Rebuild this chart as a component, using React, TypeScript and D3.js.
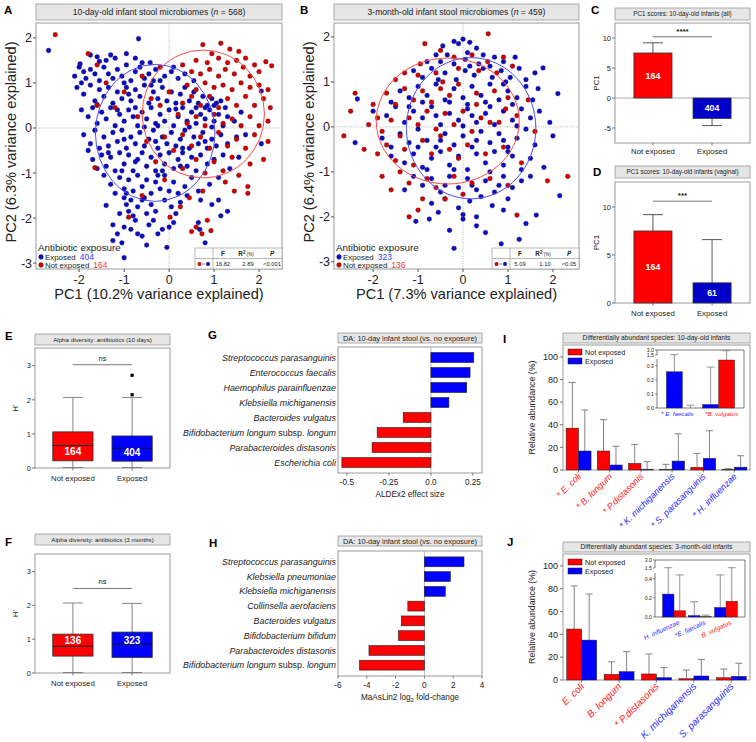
import React from "react";
import * as d3 from "d3";

const FONT = "'Liberation Sans', Arial, Helvetica, sans-serif";
const FRAME = "#9a9a9a";
const TXT = "#222";
const RED = "#ff0000";
const BLUE = "#0000ff";
const DOT_RED = "#d40000";
const DOT_BLUE = "#0a0ac8";

// ---------------- Panel A: PCA 10-day ----------------
const aTitle = "10-day-old infant stool microbiomes";
const aN = 568;
const aXLabel = "PC1 (10.2% variance explained)";
const aYLabel = "PC2 (6.3% variance explained)";
const aCounts = [404, 164];
const aStats = ["16.82", "2.89", "<0.001"];
const aEllExposed = [-0.31, -0.11, 1.33, 1.52];
const aEllNotExposed = [0.76, 0.31, 1.36, 1.42];
const aExposed = [
  [-0.68,1.98],[-2.68,1.72],[-1.98,1.42],[-1.75,1.62],[-1.55,1.48],[-1.4,1.5],[-1.2,1.55],[-0.75,1.55],[-0.42,1.45],[-0.95,1.65],[-1.6,1.58],[-1.3,1.62],
  [-2.0,1.35],[-1.9,1.25],[-1.85,1.1],[-1.75,1.3],[-1.65,1.2],[-1.55,1.05],[-1.45,1.35],[-1.35,1.2],[-1.25,1.1],[-1.15,1.3],[-1.05,1.15],[-0.95,1.4],[-0.85,1.05],[-0.75,1.25],[-0.65,1.35],[-0.55,1.1],[-0.45,1.2],[-0.3,1.3],[-0.2,1.05],[-0.1,1.15],[0.05,1.25],[0.2,1.1],[0.35,1.2],[-1.95,1.0],[-2.1,1.15],[-0.6,1.45],[-1.0,1.0],[0.1,1.35],[-0.35,1.05],[0.55,1.05],
  [-2.05,0.9],[-1.9,0.75],[-1.75,0.95],[-1.65,0.6],[-1.55,0.85],[-1.45,0.7],[-1.35,0.9],[-1.25,0.55],[-1.15,0.8],[-1.05,0.65],[-0.95,0.9],[-0.85,0.6],[-0.75,0.85],[-0.65,0.7],[-0.55,0.95],[-0.45,0.55],[-0.35,0.8],[-0.25,0.65],[-0.15,0.9],[-0.05,0.6],[0.05,0.8],[0.15,0.55],[0.25,0.75],[0.35,0.9],[0.45,0.6],[0.55,0.8],[0.65,0.55],[0.75,0.7],[0.85,0.5],[0.95,0.65],[1.05,0.55],[1.15,0.6],[-1.6,0.52],[-0.9,0.75],[-0.4,0.95],[0.6,0.45],[0.8,0.45],[1.0,0.5],[1.25,0.45],[2.05,0.82],
  [-1.95,0.4],[-1.8,0.25],[-1.7,0.45],[-1.6,0.1],[-1.5,0.35],[-1.4,0.2],[-1.3,0.45],[-1.2,0.05],[-1.1,0.3],[-1.0,0.15],[-0.9,0.4],[-0.8,0.25],[-0.7,0.05],[-0.6,0.35],[-0.5,0.2],[-0.4,0.45],[-0.3,0.1],[-0.2,0.3],[-0.1,0.15],[0.0,0.4],[0.1,0.05],[0.2,0.25],[0.3,0.45],[0.4,0.15],[0.5,0.35],[0.6,0.1],[0.7,0.3],[0.8,0.2],[0.9,0.4],[1.0,0.15],[1.1,0.3],[1.2,0.05],[1.3,0.25],[-1.15,0.4],[-0.75,0.45],[-0.25,0.05],[0.15,0.42],[0.45,0.02],[0.95,0.02],[1.45,0.15],[-0.55,0.02],[1.6,0.35],
  [-1.9,-0.15],[-1.75,-0.35],[-1.65,-0.05],[-1.55,-0.45],[-1.45,-0.2],[-1.35,-0.4],[-1.25,-0.1],[-1.15,-0.3],[-1.05,-0.05],[-0.95,-0.45],[-0.85,-0.2],[-0.75,-0.35],[-0.65,-0.1],[-0.55,-0.4],[-0.45,-0.25],[-0.35,-0.05],[-0.25,-0.45],[-0.15,-0.2],[-0.05,-0.35],[0.05,-0.1],[0.15,-0.4],[0.25,-0.25],[0.35,-0.05],[0.45,-0.45],[0.55,-0.2],[0.65,-0.35],[0.75,-0.1],[0.85,-0.45],[0.95,-0.25],[1.05,-0.4],[1.15,-0.15],[1.3,-0.35],[1.5,-0.2],[-1.8,-0.5],[-1.0,-0.25],[-0.3,-0.3],[0.3,-0.45],[0.8,-0.3],[1.7,-0.15],[2.05,-0.35],
  [-1.7,-0.7],[-1.6,-0.9],[-1.5,-0.6],[-1.4,-0.85],[-1.3,-0.65],[-1.2,-0.95],[-1.1,-0.55],[-1.0,-0.8],[-0.9,-0.6],[-0.8,-0.95],[-0.7,-0.7],[-0.6,-0.55],[-0.5,-0.85],[-0.4,-0.65],[-0.3,-0.95],[-0.2,-0.6],[-0.1,-0.8],[0.0,-0.55],[0.1,-0.9],[0.2,-0.7],[0.3,-0.55],[0.4,-0.85],[0.5,-0.65],[0.6,-0.95],[0.7,-0.6],[0.85,-0.8],[1.0,-0.7],[1.2,-0.6],[1.35,-0.9],[-1.35,-0.55],[-0.75,-0.75],[-0.15,-0.95],[0.25,-0.85],[-1.05,-0.95],[1.55,-0.65],
  [-1.45,-1.05],[-1.3,-1.25],[-1.2,-1.45],[-1.1,-1.1],[-1.0,-1.35],[-0.9,-1.15],[-0.8,-1.4],[-0.7,-1.05],[-0.6,-1.3],[-0.5,-1.15],[-0.4,-1.45],[-0.3,-1.2],[-0.2,-1.35],[-0.1,-1.05],[0.0,-1.4],[0.1,-1.2],[0.2,-1.45],[0.35,-1.3],[0.5,-1.1],[0.65,-1.4],[0.9,-1.25],[-0.95,-1.45],[-0.25,-1.05],[0.4,-1.5],[1.1,-1.1],
  [-1.4,-1.72],[-1.0,-1.55],[-0.95,-1.7],[-0.9,-1.85],[-0.85,-1.6],[-0.8,-1.95],[-0.7,-1.75],[-0.6,-1.6],[-0.5,-1.9],[-0.4,-1.7],[-0.3,-1.85],[-0.1,-1.6],[0.05,-1.75],[0.15,-1.9],[0.25,-1.65],[0.7,-1.6],[0.95,-1.7],[1.1,-1.6],[1.3,-1.85],[1.15,-1.95],[-0.55,-1.55],[-1.1,-1.9],
  [-1.25,-2.15],[-1.25,-2.5],[-1.15,-2.35],[-1.0,-2.2],[-0.85,-2.25],[-0.75,-2.05],[-0.7,-2.35],[-0.6,-2.4],[-0.45,-2.15],[-0.35,-2.05],[-0.25,-2.35],[-0.15,-2.25],[-0.05,-2.65],[0.1,-2.1],[-1.0,-2.88],[0.8,-2.55],[0.65,-2.1],[0.68,-2.25],[-0.5,-2.6],[-1.05,-2.55],[0.0,-2.2],
];
const aNotExposed = [
  [-2.53,2.07],[-1.8,1.65],[-1.6,1.4],[-1.65,-0.88],[-0.9,-1.98],[0.02,-1.98],
  [0.75,1.85],[1.15,1.88],[1.35,1.75],[0.95,1.65],[1.55,1.7],[0.6,1.5],[0.85,1.45],[1.1,1.55],[1.3,1.45],[1.5,1.5],[1.7,1.55],[1.9,1.4],[2.15,1.47],[2.28,1.38],[0.5,1.25],[0.7,1.2],[0.9,1.3],[1.1,1.15],[1.25,1.3],[1.45,1.2],[1.65,1.35],[1.8,1.15],[2.0,1.25],[-0.2,1.35],[-0.6,1.15],[0.3,1.4],
  [0.4,0.95],[0.6,0.85],[0.8,1.0],[1.0,0.9],[1.2,0.95],[1.4,0.85],[1.6,1.0],[1.8,0.9],[2.0,0.95],[2.2,0.85],[0.5,0.7],[0.9,0.7],[1.3,0.65],[1.7,0.7],[2.1,0.65],[0.3,0.55],[0.7,0.5],[1.1,0.45],[1.5,0.5],[1.9,0.5],[2.25,0.45],[-0.4,0.65],[-1.2,0.45],[0.2,0.3],[0.6,0.25],[1.0,0.3],[1.4,0.2],[1.8,0.25],[2.2,0.15],[0.4,0.1],[0.8,0.05],[1.2,0.1],[1.6,0.05],[2.0,0.05],[-0.7,0.25],[-0.2,0.5],
  [0.3,-0.15],[0.7,-0.2],[1.1,-0.1],[1.5,-0.25],[1.9,-0.15],[2.2,-0.3],[0.5,-0.4],[0.9,-0.45],[1.3,-0.4],[1.7,-0.45],[-0.5,-0.3],[-0.1,-0.2],[0.1,-0.5],[0.6,-0.7],[1.0,-0.75],[1.4,-0.65],[1.8,-0.8],[2.1,-0.7],[0.3,-0.9],[0.8,-1.0],[1.2,-0.95],[1.55,-1.05],[-0.3,-0.75],[1.75,-1.3],[1.75,-1.45],[1.25,-1.2],[0.45,-1.55],[1.45,-1.4],[0.75,-1.4],[0.25,-1.75],[0.5,-2.3],[0.6,-2.2],[0.93,-2.28],[0.85,-2.05],[0.73,-2.35],[-0.6,-1.5],[-1.6,0.5],[-1.4,1.0],[-1.0,0.8],[0.0,0.8],[-0.1,-1.15],
];

// ---------------- Panel B: PCA 3-month ----------------
const bTitle = "3-month-old infant stool microbiomes";
const bN = 459;
const bXLabel = "PC1 (7.3% variance explained)";
const bYLabel = "PC2 (6.4% variance explained)";
const bCounts = [323, 136];
const bStats = ["5.09", "1.10", "<0.05"];
const bEllExposed = [0.18, -0.03, 1.44, 1.57];
const bEllNotExposed = [-0.34, 0.13, 1.59, 1.4];
const bExposed = [
  [-0.2,1.9],[-0.1,1.85],[0.0,1.95],[0.15,1.88],[-0.45,1.8],[0.3,1.75],[-0.6,1.6],[-0.35,1.6],[0.1,1.65],[0.45,1.6],[0.7,1.55],[1.16,1.55],[-0.8,1.45],[-0.5,1.45],[-0.2,1.4],[0.05,1.5],[0.35,1.4],[0.6,1.35],[0.9,1.45],[1.78,1.31],[1.6,1.2],
  [-1.1,1.25],[-0.9,1.1],[-0.7,1.3],[-0.4,1.2],[-0.15,1.05],[0.05,1.25],[0.25,1.15],[0.45,1.3],[0.65,1.1],[0.85,1.25],[1.05,1.1],[1.25,1.3],[1.4,1.05],[-0.55,1.05],[0.15,1.35],[0.95,1.0],
  [-2.35,0.62],[-1.6,0.55],[-1.4,0.8],[-1.2,0.65],[-1.0,0.9],[-0.8,0.7],[-0.6,0.95],[-0.4,0.6],[-0.2,0.85],[0.0,0.65],[0.2,0.9],[0.4,0.7],[0.6,0.95],[0.8,0.6],[1.0,0.8],[1.2,0.65],[1.4,0.9],[1.67,0.85],[2.11,0.74],[1.55,0.6],[-0.3,0.55],[0.5,0.55],[0.9,0.95],[-0.9,0.55],[0.1,0.5],[1.1,0.5],
  [-2.0,0.35],[-1.7,0.25],[-1.5,0.45],[-1.3,0.1],[-1.1,0.35],[-0.9,0.2],[-0.7,0.45],[-0.5,0.05],[-0.3,0.3],[-0.1,0.15],[0.1,0.4],[0.3,0.1],[0.5,0.3],[0.7,0.05],[0.9,0.35],[1.1,0.15],[1.3,0.4],[1.5,0.2],[1.93,0.1],[-0.6,0.25],[0.2,0.25],[0.6,0.45],[1.2,0.02],[-1.2,0.45],[0.0,0.02],[1.7,0.35],
  [-2.4,-0.35],[-1.8,-0.25],[-1.6,-0.45],[-1.4,-0.15],[-1.2,-0.35],[-1.0,-0.05],[-0.8,-0.3],[-0.6,-0.45],[-0.4,-0.15],[-0.2,-0.4],[0.0,-0.2],[0.2,-0.45],[0.4,-0.1],[0.6,-0.35],[0.8,-0.15],[1.0,-0.45],[1.2,-0.25],[1.4,-0.05],[2.0,-0.2],[1.6,-0.4],[-0.5,-0.3],[0.3,-0.3],[0.9,-0.3],[-1.0,-0.45],
  [-1.6,-0.65],[-1.3,-0.8],[-1.1,-0.6],[-0.9,-0.9],[-0.7,-0.7],[-0.5,-0.55],[-0.3,-0.85],[-0.1,-0.65],[0.1,-0.95],[0.3,-0.6],[0.5,-0.8],[0.7,-0.55],[0.9,-0.85],[1.1,-0.65],[1.3,-0.95],[1.5,-0.7],[1.8,-0.9],[-0.2,-0.95],[0.6,-1.0],[1.0,-0.55],[-0.8,-0.95],
  [-1.1,-1.1],[-0.9,-1.3],[-0.7,-1.15],[-0.5,-1.45],[-0.3,-1.1],[-0.1,-1.35],[0.1,-1.15],[0.3,-1.4],[0.5,-1.2],[0.7,-1.45],[0.9,-1.1],[1.1,-1.35],[1.3,-1.2],[-0.4,-1.3],[0.2,-1.3],[0.8,-1.3],[1.5,-1.1],[-1.3,-1.4],
  [-1.05,-2.1],[-0.7,-1.7],[-0.4,-1.6],[-0.1,-1.8],[0.15,-1.65],[0.4,-1.55],[0.65,-1.75],[1.0,-1.6],[2.15,-1.53],[1.63,-1.96],[0.0,-1.95],[-0.55,-1.9],[0.9,-1.85],[0.3,-2.0],
  [1.4,-2.15],[-0.2,-2.7],[0.0,-2.05],[0.3,-2.2],[0.5,-2.35],[0.7,-2.8],[1.25,-2.5],[-0.75,-2.05],[0.85,-2.6],[-0.3,-2.3],
];
const bNotExposed = [
  [0.56,2.07],[-0.85,1.85],[-0.5,1.7],[-0.2,1.55],[0.2,1.6],[0.55,1.45],[0.9,1.55],[-0.95,1.4],[-1.3,1.2],[-1.5,1.05],[-1.0,1.15],[-0.6,1.2],[0.35,1.25],[0.75,1.2],[1.1,1.35],
  [-2.4,0.75],[-2.0,0.5],[-1.9,0.2],[-1.7,0.75],[-1.5,0.5],[-1.3,0.85],[-1.1,0.6],[-0.9,0.8],[-0.7,0.55],[-0.5,0.85],[-0.3,0.7],[-0.1,0.95],[0.3,0.75],[0.7,0.8],[1.0,0.65],
  [-2.1,0.05],[-1.8,-0.1],[-1.6,0.15],[-1.4,-0.2],[-1.2,0.2],[-1.0,0.05],[-0.8,0.35],[-0.6,-0.05],[-0.4,0.3],[-0.2,0.05],[0.0,0.35],[0.2,-0.1],[0.4,0.2],[0.8,0.1],[1.2,0.25],
  [-2.65,-0.2],[-2.2,-0.5],[-1.9,-0.6],[-1.7,-0.4],[-1.5,-0.75],[-1.3,-0.5],[-1.1,-0.85],[-0.9,-0.3],[-0.7,-0.6],[-0.5,-0.2],[-0.3,-0.5],[-0.1,-0.7],[0.1,-0.4],[0.5,-0.6],[0.9,-0.45],
  [-1.8,-1.1],[-1.4,-1.0],[-1.2,-1.25],[-0.8,-1.15],[-0.6,-1.35],[-0.2,-1.1],[0.2,-1.25],[0.6,-1.15],[1.0,-1.3],[-1.0,-1.85],[-1.2,-2.0],[-0.4,-1.6],[0.0,-1.5],[2.33,-1.1],[1.88,-1.2],[1.2,-1.96],
  [1.6,-0.1],[0.95,0.4],[1.45,0.6],[-2.5,0.35],[-0.9,-1.6],[0.3,0.5],[-0.1,1.3],[-1.6,-1.4],[1.3,-0.8],[0.6,0.1],[-0.45,1.0],
];
const pcaXTicks = [-2, -1, 0, 1, 2];
const pcaYTicks = [-3, -2, -1, 0, 1, 2];

// ---------------- Panels C, D: PC1 scores ----------------
const groups = ["Not exposed", "Exposed"];
const cTitle = "PC1 scores: 10-day-old infants (all)";
const cMeans = [7.5, -3.4];
const cErr = [9.2, -4.6];
const cN = [164, 404];
const cTicks = [-5, 0, 5, 10];
const cSig = "****";
const dTitle = "PC1 scores: 10-day-old infants (vaginal)";
const dMeans = [7.5, 2.1];
const dErr = [9.2, 6.6];
const dN = [164, 61];
const dTicks = [0, 5, 10];
const dSig = "***";

// ---------------- Panels E, F: alpha diversity ----------------
const eTitle = "Alpha diversity: antibiotics (10 days)";
const eBoxes = [
  { min: 0, q1: 0.21, med: 0.66, q3: 1.06, max: 2.07, n: 164, lab: 0.5, out: [] },
  { min: 0, q1: 0.2, med: 0.58, q3: 0.94, max: 2.07, n: 404, lab: 0.47, out: [2.15, 2.72] },
];
const fTitle = "Alpha diversity: antibiotics (3 months)";
const fBoxes = [
  { min: 0, q1: 0.5, med: 0.79, q3: 1.15, max: 2.07, n: 136, lab: 0.97, out: [] },
  { min: 0, q1: 0.46, med: 0.85, q3: 1.21, max: 2.06, n: 323, lab: 0.97, out: [] },
];
const hTicks = [0, 1, 2, 3];

// ---------------- Panels G, H: differential abundance ----------------
const daTitle = "DA: 10-day infant stool (vs. no exposure)";
const gSpecies = ["Streptococcus parasanguinis", "Enterococcus faecalis", "Haemophilus parainfluenzae", "Klebsiella michiganensis", "Bacteroides vulgatus", "Bifidobacterium longum subsp. longum", "Parabacteroides distasonis", "Escherichia coli"];
const gEffect = [0.255, 0.233, 0.213, 0.107, -0.165, -0.32, -0.35, -0.53];
const gTicks = [-0.5, -0.25, 0, 0.25];
const gTickLabels = ["-0.5", "-0.25", "0.0", "0.25"];
const hSpecies = ["Streptococcus parasanguinis", "Klebsiella pneumoniae", "Klebsiella michiganensis", "Collinsella aerofaciens", "Bacteroides vulgatus", "Bifidobacterium bifidum", "Parabacteroides distasonis", "Bifidobacterium longum subsp. longum"];
const hLfc = [2.75, 1.8, 1.45, -1.15, -1.6, -1.8, -3.85, -4.5];
const hTicksX = [-6, -4, -2, 0, 2, 4];

// ---------------- Panels I, J: relative abundance ----------------
const iTitle = "Differentially abundant species: 10-day-old infants";
const iSpecies = ["E. coli", "B. longum", "P.distasonis", "K. michiganensis", "S. parasanguinis", "H. influenzae"];
const iStar = ["* ", "* ", "* ", "* ", "* ", "* "];
const iSide = ["r", "r", "r", "b", "b", "b"];
const iNotExp = [37, 16.8, 5.9, 0.5, 2.4, 0.3];
const iNotExpErr = [77.4, 44.5, 22.6, 5, 14.7, 1.2];
const iExp = [16.8, 4.4, 0.7, 7.9, 10.3, 2.5];
const iExpErr = [53, 21, 7.4, 32, 34.7, 12.6];
const iInsetSpecies = ["E. faecalis", "B. vulgatus"];
const iInsetStar = ["* ", "*"];
const iInsetSide = ["b", "r"];
const iInsetExp = [0.257, 0.025];
const iInsetExpErr = [1.6, 0.29];
const iInsetNot = [0.0, 0.34];
const iInsetNotErr = [0.02, 2.8];
const iInsetLowTicks = [0, 0.1, 0.2, 0.3];

const jTitle = "Differentially abundant species: 3-month-old infants";
const jSpecies = ["E. coli", "B. longum", "P.distasonis", "K. michiganensis", "S. parasanguinis"];
const jStar = ["", "", "* ", "", ""];
const jSide = ["r", "r", "r", "b", "b"];
const jNotExp = [44.7, 5, 5.3, 1.2, 2];
const jNotExpErr = [82.5, 16, 22.8, 8.8, 9.6];
const jExp = [35, 7.3, 2, 3.5, 3.2];
const jExpErr = [75.4, 24.9, 11, 18, 14.7];
const jInsetSpecies = ["H. influenzae", "E. faecalis", "B. vulgatus"];
const jInsetStar = ["", "*", ""];
const jInsetSide = ["b", "b", "r"];
const jInsetExp = [0.24, 0.015, 0.1];
const jInsetExpErr = [1.55, 0.16, 0.44];
const jInsetNot = [0.065, 0.003, 0.165];
const jInsetNotErr = [0.44, 0.02, 1.55];
const jInsetLowTicks = [0, 0.2, 0.4];
const abTicks = [0, 20, 40, 60, 80, 100];
const upperTicks = [1.5, 3.0];

// ---------------- helpers ----------------
function TitleBox({ x, y, w, h, fs, children }) {
  return (
    <g>
      <rect x={x} y={y} width={w} height={h} fill="#e6e6e6" stroke="#9a9a9a" strokeWidth={0.8} />
      <text x={x + w / 2} y={y + h / 2} dy="0.36em" textAnchor="middle" fontSize={fs} fill={TXT}>{children}</text>
    </g>
  );
}

function PanelLabel({ x, y, t }) {
  return <text x={x} y={y} fontSize={11.5} fontWeight="bold" fill="#000">{t}</text>;
}

function SpeciesLabel({ x, y, name, fs }) {
  const parts = name.split(" subsp. ");
  return (
    <text x={x} y={y} dy="0.35em" textAnchor="end" fontSize={fs} fill={TXT}>
      <tspan fontStyle="italic">{parts[0]}</tspan>
      {parts.length > 1 ? <><tspan> subsp. </tspan><tspan fontStyle="italic">{parts[1]}</tspan></> : null}
    </text>
  );
}

function ScatterPanel({ left, right, top, bottom, xDom, yDom, exposed, notExposed, ellExp, ellNot, title, n, xLabel, yLabel, counts, stats, label, labelX }) {
  const x = d3.scaleLinear().domain(xDom).range([left, right]);
  const y = d3.scaleLinear().domain(yDom).range([bottom, top]);
  const ell = (e, c) => (
    <ellipse cx={x(e[0])} cy={y(e[1])} rx={x(e[0] + e[2]) - x(e[0])} ry={y(e[1]) - y(e[1] + e[3])} fill="none" stroke={c} strokeWidth={1} />
  );
  const tl = right - 87;
  return (
    <g>
      <PanelLabel x={labelX} y={14} t={label} />
      <TitleBox x={left} y={4} w={right - left} h={16} fs={8.6}>
        {title} (<tspan fontStyle="italic">n</tspan> = {n})
      </TitleBox>
      <rect x={left} y={top} width={right - left} height={bottom - top} fill="#fff" stroke={FRAME} strokeWidth={1} />
      <line x1={x(0)} x2={x(0)} y1={top} y2={bottom} stroke="#b0b0b0" strokeWidth={0.8} strokeDasharray="1.2,1.2" />
      <line x1={left} x2={right} y1={y(0)} y2={y(0)} stroke="#b0b0b0" strokeWidth={0.8} strokeDasharray="1.2,1.2" />
      {exposed.map((d, i) => (
        <circle key={"e" + i} cx={x(d[0])} cy={y(d[1])} r={2.4} fill={DOT_BLUE} stroke="#222" strokeWidth={0.3} />
      ))}
      {notExposed.map((d, i) => (
        <circle key={"n" + i} cx={x(d[0])} cy={y(d[1])} r={2.4} fill={DOT_RED} stroke="#222" strokeWidth={0.3} />
      ))}
      {ell(ellExp, "#4b4bff")}
      {ell(ellNot, "#ff4b4b")}
      {pcaXTicks.map((t) => (
        <g key={"xt" + t}>
          <line x1={x(t)} x2={x(t)} y1={bottom} y2={bottom + 3} stroke="#555" />
          <text x={x(t)} y={bottom + 15} textAnchor="middle" fontSize={12.5} fill={TXT}>{t}</text>
        </g>
      ))}
      {pcaYTicks.map((t) => (
        <g key={"yt" + t}>
          <line x1={left - 3} x2={left} y1={y(t)} y2={y(t)} stroke="#555" />
          <text x={left - 4} y={y(t)} dy="0.36em" textAnchor="end" fontSize={12.5} fill={TXT}>{t}</text>
        </g>
      ))}
      <text x={(left + right) / 2} y={bottom + 30} textAnchor="middle" fontSize={14.6} fill={TXT}>{xLabel}</text>
      <text transform={`translate(${left - 20},${(top + bottom) / 2 - 4}) rotate(-90)`} textAnchor="middle" fontSize={14.6} fill={TXT}>{yLabel}</text>
      {/* legend */}
      <text x={left + 2} y={250.5} fontSize={9.8} fill={TXT}>Antibiotic exposure</text>
      <circle cx={left + 5} cy={257} r={2.4} fill={DOT_BLUE} stroke="#222" strokeWidth={0.3} />
      <text x={left + 9} y={260} fontSize={7.9} fill={TXT}>Exposed<tspan dx={4} fill="#3a3aff" fontSize={8.5}>{counts[0]}</tspan></text>
      <circle cx={left + 5} cy={265} r={2.4} fill={DOT_RED} stroke="#222" strokeWidth={0.3} />
      <text x={left + 9} y={268} fontSize={7.9} fill={TXT}>Not exposed<tspan dx={4} fill="#ff3030" fontSize={8.5}>{counts[1]}</tspan></text>
      {/* stats table */}
      <rect x={tl} y={248} width={87} height={bottom - 248} fill="#fff" stroke="#8a8a8a" strokeWidth={0.6} />
      <line x1={tl} x2={right} y1={258.5} y2={258.5} stroke="#8a8a8a" strokeWidth={0.6} />
      <line x1={tl + 18} x2={tl + 18} y1={248} y2={bottom} stroke="#8a8a8a" strokeWidth={0.6} />
      <text x={right - 59} y={256} textAnchor="middle" fontSize={6.3} fontWeight="bold" fill={TXT}>F</text>
      <text x={right - 36} y={256} textAnchor="middle" fontSize={6.3} fontWeight="bold" fill={TXT}>R<tspan fontSize={4.5} dy={-2.5}>2</tspan><tspan fontSize={4.5} dy={2.5} fontWeight="normal"> (%)</tspan></text>
      <text x={right - 10} y={256} textAnchor="middle" fontSize={6.3} fontWeight="bold" fontStyle="italic" fill={TXT}>P</text>
      <circle cx={tl + 4.5} cy={264} r={2} fill={DOT_RED} />
      <line x1={tl + 7.5} x2={tl + 10} y1={264} y2={264} stroke="#333" strokeWidth={0.6} />
      <circle cx={tl + 13} cy={264} r={2} fill={DOT_BLUE} />
      {stats.map((s, i) => (
        <text key={"s" + i} x={right - [59, 34, 10][i]} y={266} textAnchor="middle" fontSize={5.8} fill={TXT}>{s}</text>
      ))}
    </g>
  );
}

function BarPanel({ left, right, top, bottom, titleY, title, yDom, ticks, means, errs, ns, sig, sigVal, label, labelX, labelY, xLabY, zeroLine }) {
  const x = d3.scaleBand().domain(groups).range([left, right]).paddingInner(0.356).paddingOuter(0.32);
  const y = d3.scaleLinear().domain(yDom).range([bottom, top]);
  const cols = [RED, "#0000c8"];
  const bw = x.bandwidth();
  return (
    <g>
      <PanelLabel x={labelX} y={labelY} t={label} />
      <TitleBox x={left} y={titleY} w={right - left} h={12} fs={6.3}>{title}</TitleBox>
      <rect x={left} y={top} width={right - left} height={bottom - top} fill="#fff" stroke={FRAME} strokeWidth={1} />
      {zeroLine ? <line x1={left} x2={right} y1={y(0)} y2={y(0)} stroke="#9a9a9a" strokeWidth={0.8} /> : null}
      {ticks.map((t) => (
        <g key={t}>
          <line x1={left - 3} x2={left} y1={y(t)} y2={y(t)} stroke="#555" strokeWidth={0.8} />
          <text x={left - 4} y={y(t)} dy="0.36em" textAnchor="end" fontSize={7.5} fill={TXT}>{t}</text>
        </g>
      ))}
      <text transform={`translate(${left - 16},${(top + bottom) / 2}) rotate(-90)`} textAnchor="middle" fontSize={8} fill={TXT}>PC1</text>
      {groups.map((g, i) => {
        const x0 = x(g);
        const cx = x0 + bw / 2;
        const yb = y(Math.max(0, means[i]));
        const h = Math.abs(y(means[i]) - y(0));
        return (
          <g key={g}>
            <line x1={cx} x2={cx} y1={y(means[i])} y2={y(errs[i])} stroke="#444" strokeWidth={0.9} />
            <line x1={cx - 10} x2={cx + 10} y1={y(errs[i])} y2={y(errs[i])} stroke="#444" strokeWidth={0.9} />
            <rect x={x0} y={yb} width={bw} height={h} fill={cols[i]} stroke="#333" strokeWidth={0.8} />
            <text x={cx} y={y(means[i] / 2)} dy="0.36em" textAnchor="middle" fontSize={8.8} fontWeight="bold" fill="#fff">{ns[i]}</text>
            <line x1={cx} x2={cx} y1={bottom} y2={bottom + 2.5} stroke="#555" strokeWidth={0.8} />
            <text x={cx} y={xLabY} textAnchor="middle" fontSize={7.8} fill={TXT}>{g}</text>
          </g>
        );
      })}
      <line x1={x(groups[0]) + bw / 2} x2={x(groups[1]) + bw / 2} y1={y(sigVal)} y2={y(sigVal)} stroke="#666" strokeWidth={0.9} />
      <text x={(x(groups[0]) + x(groups[1]) + bw) / 2} y={y(sigVal) - 3} textAnchor="middle" fontSize={8} fontWeight="bold" fill={TXT}>{sig}</text>
    </g>
  );
}

function BoxPanel({ left, right, top, bottom, titleY, title, boxes, sigVal, label, labelY, xLabY }) {
  const x = d3.scaleBand().domain(groups).range([left, right]).paddingInner(0.32).paddingOuter(0.3);
  const y = d3.scaleLinear().domain([0, 3.52]).range([bottom, top]);
  const cols = [RED, BLUE];
  const bw = x.bandwidth();
  return (
    <g>
      <PanelLabel x={5} y={labelY} t={label} />
      <TitleBox x={left} y={titleY} w={right - left} h={11} fs={6.2}>{title}</TitleBox>
      <rect x={left} y={top} width={right - left} height={bottom - top} fill="#fff" stroke={FRAME} strokeWidth={1} />
      {hTicks.map((t) => (
        <g key={t}>
          <line x1={left - 3} x2={left} y1={y(t)} y2={y(t)} stroke="#555" strokeWidth={0.8} />
          <text x={left - 4} y={y(t)} dy="0.36em" textAnchor="end" fontSize={7.5} fill={TXT}>{t}</text>
        </g>
      ))}
      <text transform={`translate(${left - 17},${(top + bottom) / 2}) rotate(-90)`} textAnchor="middle" fontSize={8} fill={TXT}>H'</text>
      {boxes.map((b, i) => {
        const x0 = x(groups[i]);
        const cx = x0 + bw / 2;
        return (
          <g key={i}>
            <line x1={cx} x2={cx} y1={y(b.q3)} y2={y(b.max)} stroke="#777" strokeWidth={0.9} />
            <line x1={cx - 10} x2={cx + 10} y1={y(b.max)} y2={y(b.max)} stroke="#777" strokeWidth={0.9} />
            <line x1={cx} x2={cx} y1={y(b.q1)} y2={y(b.min)} stroke="#777" strokeWidth={0.9} />
            <line x1={cx - 10} x2={cx + 10} y1={y(b.min) - 0.5} y2={y(b.min) - 0.5} stroke="#777" strokeWidth={0.9} />
            <rect x={x0} y={y(b.q3)} width={bw} height={y(b.q1) - y(b.q3)} fill={cols[i]} stroke="#333" strokeWidth={0.8} />
            <line x1={x0} x2={x0 + bw} y1={y(b.med)} y2={y(b.med)} stroke="#111" strokeWidth={0.9} />
            {b.out.map((o, k) => (
              <rect key={k} x={cx - 1.6} y={y(o) - 1.6} width={3.2} height={3.2} fill="#000" />
            ))}
            <text x={cx} y={y(b.lab)} dy="0.36em" textAnchor="middle" fontSize={10} fontWeight="bold" fill="#fff">{b.n}</text>
            <line x1={cx} x2={cx} y1={bottom} y2={bottom + 2.5} stroke="#555" strokeWidth={0.8} />
            <text x={cx} y={xLabY} textAnchor="middle" fontSize={7.8} fill={TXT}>{groups[i]}</text>
          </g>
        );
      })}
      <line x1={x(groups[0]) + bw / 2} x2={x(groups[1]) + bw / 2} y1={y(sigVal)} y2={y(sigVal)} stroke="#555" strokeWidth={0.8} />
      <text x={(x(groups[0]) + x(groups[1]) + bw) / 2} y={y(sigVal) - 4} textAnchor="middle" fontSize={7.5} fill={TXT}>ns</text>
    </g>
  );
}

function DAPanel({ left, right, top, bottom, titleY, species, values, xDom, ticks, tickLabels, label, labelX, labelY, axisLabel, po }) {
  const x = d3.scaleLinear().domain(xDom).range([left, right]);
  const y = d3.scaleBand().domain(species).range([top, bottom]).paddingInner(0.333).paddingOuter(po);
  const bh = y.bandwidth();
  return (
    <g>
      <PanelLabel x={labelX} y={labelY} t={label} />
      <TitleBox x={left} y={titleY} w={right - left} h={10} fs={7.4}>{daTitle}</TitleBox>
      <rect x={left} y={top} width={right - left} height={bottom - top} fill="#fff" stroke={FRAME} strokeWidth={1} />
      <line x1={x(0)} x2={x(0)} y1={top} y2={bottom} stroke="#b0b0b0" strokeWidth={0.9} />
      {species.map((s, i) => {
        const v = values[i];
        return (
          <g key={s}>
            <rect x={Math.min(x(0), x(v))} y={y(s)} width={Math.abs(x(v) - x(0))} height={bh} fill={v > 0 ? BLUE : RED} stroke="#222" strokeWidth={0.6} />
            <SpeciesLabel x={left - 2} y={y(s) + bh / 2} name={s} fs={8.9} />
          </g>
        );
      })}
      {ticks.map((t, i) => (
        <g key={t}>
          <line x1={x(t)} x2={x(t)} y1={bottom} y2={bottom + 2.5} stroke="#555" strokeWidth={0.8} />
          <text x={x(t)} y={bottom + 12} textAnchor="middle" fontSize={8.2} fill={TXT}>{tickLabels[i]}</text>
        </g>
      ))}
      <text x={(left + right) / 2} y={bottom + 24} textAnchor="middle" fontSize={8.2} fill={TXT}>{axisLabel}</text>
    </g>
  );
}

function AbundancePanel({ left, right, top, bottom, titleY, title, species, star, side, notExp, notErr, exp, expErr, label, labelY, legY, inset, xLabY, xLabFs }) {
  const x = d3.scaleBand().domain(species).range([left, right]);
  const y = d3.scaleLinear().domain([0, 110.5]).range([bottom, top]);
  const bwid = x.bandwidth() * 0.4;
  const ecol = "#777";
  const bar = (cx, x0, v, e, col, k) => (
    <g key={k}>
      <line x1={cx} x2={cx} y1={y(v)} y2={y(e)} stroke={ecol} strokeWidth={0.9} />
      <line x1={cx - 3.5} x2={cx + 3.5} y1={y(e)} y2={y(e)} stroke={ecol} strokeWidth={0.9} />
      <rect x={x0} y={y(v)} width={bwid} height={y(0) - y(v)} fill={col} stroke="#222" strokeWidth={0.5} />
    </g>
  );
  // inset
  const ix = d3.scalePoint().domain(inset.species).range([inset.left, inset.right]).padding(inset.pad);
  const low = d3.scaleLinear().domain([0, inset.lowMax]).range([inset.bottom, inset.lowTop]);
  const up = d3.scaleLinear().domain([1.5, 3.0]).range([inset.upBottom, inset.top]);
  const iy = (v) => (v <= inset.lowMax ? low(v) : up(v));
  const ibw = inset.bw;
  const ibar = (cx, x0, v, e, col, k) => (
    <g key={k}>
      <line x1={cx} x2={cx} y1={iy(v)} y2={iy(e)} stroke={ecol} strokeWidth={0.8} />
      <line x1={cx - 4} x2={cx + 4} y1={iy(e)} y2={iy(e)} stroke={ecol} strokeWidth={0.8} />
      <rect x={x0} y={iy(v)} width={ibw} height={Math.max(0, inset.bottom - iy(v))} fill={col} stroke="#222" strokeWidth={0.4} />
    </g>
  );
  return (
    <g>
      <PanelLabel x={labelY > 500 ? 507 : 503} y={labelY} t={label} />
      <TitleBox x={left} y={titleY} w={right - left} h={10} fs={6.7}>{title}</TitleBox>
      <rect x={left} y={top} width={right - left} height={bottom - top} fill="#fff" stroke={FRAME} strokeWidth={1} />
      {abTicks.map((t) => (
        <g key={t}>
          <line x1={left - 3} x2={left} y1={y(t)} y2={y(t)} stroke="#555" strokeWidth={0.8} />
          <text x={left - 5} y={y(t)} dy="0.36em" textAnchor="end" fontSize={9} fill={TXT}>{t}</text>
        </g>
      ))}
      <text transform={`translate(${left - 28},${(top + bottom) / 2}) rotate(-90)`} textAnchor="middle" fontSize={8.8} fill={TXT}>Relative abundance (%)</text>
      {species.map((s, i) => {
        const x0 = x(s);
        const c = x0 + x.bandwidth() / 2;
        return (
          <g key={s}>
            {bar(c - bwid / 2, c - bwid, notExp[i], notErr[i], RED, "n")}
            {bar(c + bwid / 2, c, exp[i], expErr[i], BLUE, "e")}
            <line x1={c} x2={c} y1={bottom} y2={bottom + 2.5} stroke="#555" strokeWidth={0.8} />
            <text transform={`translate(${c + 3},${xLabY}) rotate(-45)`} textAnchor="end" fontSize={xLabFs} fontStyle="italic" fill={side[i] === "r" ? "#ff2020" : "#2a2aff"}>
              {star[i]}{s}
            </text>
          </g>
        );
      })}
      {/* legend */}
      <rect x={left + 5} y={legY - 3} width={14} height={6} fill={RED} stroke="#222" strokeWidth={0.5} />
      <text x={left + 22} y={legY + 2.5} fontSize={7.2} fill={TXT}>Not exposed</text>
      <rect x={left + 5} y={legY + 6} width={14} height={6} fill={BLUE} stroke="#222" strokeWidth={0.5} />
      <text x={left + 22} y={legY + 11.5} fontSize={7.2} fill={TXT}>Exposed</text>
      {/* inset */}
      <g>
        <line x1={inset.left} x2={inset.right} y1={inset.top} y2={inset.top} stroke="#444" strokeWidth={0.7} />
        <line x1={inset.right} x2={inset.right} y1={inset.top} y2={inset.bottom} stroke="#444" strokeWidth={0.7} />
        <line x1={inset.left} x2={inset.right} y1={inset.bottom} y2={inset.bottom} stroke="#444" strokeWidth={0.7} />
        <line x1={inset.left} x2={inset.left} y1={inset.top} y2={inset.upBottom} stroke="#444" strokeWidth={0.7} />
        <line x1={inset.left} x2={inset.left} y1={inset.lowTop - 1} y2={inset.bottom} stroke="#444" strokeWidth={0.7} />
        {inset.lowTicks.map((t) => (
          <g key={"l" + t}>
            <line x1={inset.left - 2} x2={inset.left} y1={low(t)} y2={low(t)} stroke="#444" strokeWidth={0.6} />
            <text x={inset.left - 3} y={low(t)} dy="0.36em" textAnchor="end" fontSize={5.2} fill={TXT}>{t.toFixed(1)}</text>
          </g>
        ))}
        {upperTicks.map((t) => (
          <g key={"u" + t}>
            <line x1={inset.left - 2} x2={inset.left} y1={up(t)} y2={up(t)} stroke="#444" strokeWidth={0.6} />
            <text x={inset.left - 3} y={up(t)} dy="0.36em" textAnchor="end" fontSize={5.2} fill={TXT}>{t.toFixed(1)}</text>
          </g>
        ))}
        {inset.species.map((s, i) => {
          const c = ix(s);
          return (
            <g key={s}>
              {ibar(c - ibw / 2, c - ibw, inset.exp[i], inset.expErr[i], BLUE, "e")}
              {ibar(c + ibw / 2, c, inset.not[i], inset.notErr[i], RED, "n")}
              {inset.rot ? (
                <text transform={`translate(${c + 6},${inset.bottom + 7}) rotate(-25)`} textAnchor="end" fontSize={6.6} fontStyle="italic" fill={inset.side[i] === "r" ? "#ff2020" : "#2a2aff"}>{inset.star[i]}{s}</text>
              ) : (
                <text x={c + inset.labDx[i]} y={inset.bottom + 8} textAnchor="middle" fontSize={6.2} fontStyle="italic" fill={inset.side[i] === "r" ? "#ff2020" : "#2a2aff"}>{inset.star[i]}{s}</text>
              )}
            </g>
          );
        })}
      </g>
    </g>
  );
}

export default function App() {
  const iInset = {
    left: 657, right: 744, top: 350, bottom: 408, upBottom: 355, lowTop: 360, lowMax: 0.34, pad: 0.7, bw: 16,
    species: iInsetSpecies, star: iInsetStar, side: iInsetSide, exp: iInsetExp, expErr: iInsetExpErr, not: iInsetNot, notErr: iInsetNotErr, lowTicks: iInsetLowTicks, rot: false, labDx: [-5, 3],
  };
  const jInset = {
    left: 655, right: 745, top: 560, bottom: 617, upBottom: 568, lowTop: 574, lowMax: 0.45, pad: 0.73, bw: 11.5,
    species: jInsetSpecies, star: jInsetStar, side: jInsetSide, exp: jInsetExp, expErr: jInsetExpErr, not: jInsetNot, notErr: jInsetNotErr, lowTicks: jInsetLowTicks, rot: true, labDx: [0, 0, 0],
  };
  return (
    <div style={{ position: "absolute", left: 0, top: 0 }}>
      <svg width={756} height={742} fontFamily={FONT} style={{ display: "block", background: "#fff" }}>
        <rect width={756} height={742} fill="#fff" />
        <ScatterPanel left={36} right={282} top={23} bottom={269} xDom={[-2.96, 2.51]} yDom={[-3.13, 2.33]}
          exposed={aExposed} notExposed={aNotExposed} ellExp={aEllExposed} ellNot={aEllNotExposed}
          title={aTitle} n={aN} xLabel={aXLabel} yLabel={aYLabel} counts={aCounts} stats={aStats} label="A" labelX={4} />
        <ScatterPanel left={334} right={579} top={23} bottom={269} xDom={[-2.87, 2.58]} yDom={[-3.16, 2.31]}
          exposed={bExposed} notExposed={bNotExposed} ellExp={bEllExposed} ellNot={bEllNotExposed}
          title={bTitle} n={bN} xLabel={bXLabel} yLabel={bYLabel} counts={bCounts} stats={bStats} label="B" labelX={300} />
        <BarPanel left={615} right={750} top={23} bottom={143} titleY={8} title={cTitle} yDom={[-7.5, 12.5]} ticks={cTicks}
          means={cMeans} errs={cErr} ns={cN} sig={cSig} sigVal={10.2} label="C" labelX={591} labelY={14} xLabY={154} zeroLine={true} />
        <BarPanel left={615} right={750} top={182} bottom={303} titleY={166} title={dTitle} yDom={[0, 12.6]} ticks={dTicks}
          means={dMeans} errs={dErr} ns={dN} sig={dSig} sigVal={10.6} label="D" labelX={593} labelY={176} xLabY={316} zeroLine={false} />
        <BoxPanel left={35} right={170} top={348} bottom={468} titleY={334} title={eTitle} boxes={eBoxes} sigVal={3.03} label="E" labelY={340} xLabY={481} />
        <BoxPanel left={35} right={170} top={554} bottom={673} titleY={534} title={fTitle} boxes={fBoxes} sigVal={2.5} label="F" labelY={546} xLabY={686} />
        <DAPanel left={338} right={482} top={347} bottom={473} titleY={333} species={gSpecies} values={gEffect} xDom={[-0.553, 0.304]}
          ticks={gTicks} tickLabels={gTickLabels} label="G" labelX={208} labelY={339} axisLabel="ALDEx2 effect size" po={0.367} />
        <DAPanel left={338} right={482} top={551} bottom={676} titleY={536} species={hSpecies} values={hLfc} xDom={[-6, 4]}
          ticks={hTicksX} tickLabels={hTicksX.map(String)} label="H" labelX={209} labelY={547}
          axisLabel={<>MaAsLin2 log<tspan fontSize={6} dy={2}>2</tspan><tspan dy={-2}> fold-change</tspan></>} po={0.4} />
        <AbundancePanel left={563} right={750} top={345} bottom={470} titleY={333} title={iTitle} species={iSpecies} star={iStar} side={iSide}
          notExp={iNotExp} notErr={iNotExpErr} exp={iExp} expErr={iExpErr} label="I" labelY={343} legY={352} inset={iInset} xLabY={477} xLabFs={9} />
        <AbundancePanel left={563} right={750} top={554} bottom={680} titleY={542} title={jTitle} species={jSpecies} star={jStar} side={jSide}
          notExp={jNotExp} notErr={jNotExpErr} exp={jExp} expErr={jExpErr} label="J" labelY={546} legY={562} inset={jInset} xLabY={687} xLabFs={9.8} />
      </svg>
    </div>
  );
}
